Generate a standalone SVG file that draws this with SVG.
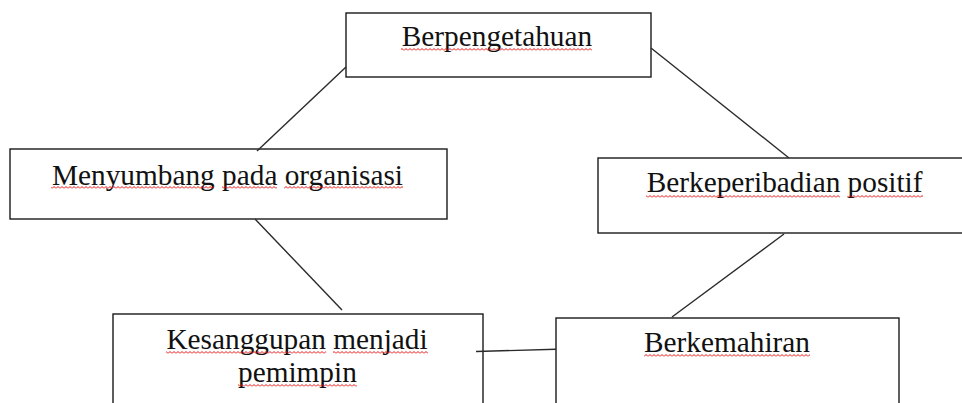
<svg xmlns="http://www.w3.org/2000/svg" width="962" height="403" viewBox="0 0 962 403">
<style>
.box{fill:#fff;stroke:#1a1a1a;stroke-width:1.4}
.lbl{font-family:"Liberation Serif","Times New Roman",serif;font-size:29.3px;fill:#111;text-anchor:middle}
.con{stroke:#2a2a2a;stroke-width:1.4;fill:none}
.sp{fill:url(#wave)}
</style>
<defs>
<pattern id="wave" width="4" height="3" patternUnits="userSpaceOnUse">
<path d="M0 2.5 L2 0.5 L4 2.5" stroke="#e81010" stroke-width="1" fill="none"/>
</pattern>
</defs>
<rect width="962" height="403" fill="#fff"/>
<g id="n1">
<rect class="box" x="346" y="13" width="305" height="64"/>
<text class="lbl" x="497" y="46">Berpengetahuan</text>
<rect class="sp" x="401" y="48" width="191" height="3"/>
</g>
<g id="n2">
<rect class="box" x="10" y="149" width="437" height="70"/>
<text class="lbl" x="227.5" y="185">Menyumbang pada organisasi</text>
<rect class="sp" x="51" y="186" width="163" height="3"/>
<rect class="sp" x="222" y="186" width="55" height="3"/>
<rect class="sp" x="284" y="186" width="119" height="3"/>
</g>
<g id="n3">
<rect class="box" x="598" y="158" width="370" height="75"/>
<text class="lbl" x="784.6" y="191.5">Berkeperibadian positif</text>
<rect class="sp" x="646" y="195" width="194" height="3"/>
<rect class="sp" x="847" y="195" width="76" height="3"/>
</g>
<g id="n4">
<rect class="box" x="113" y="314" width="370" height="100"/>
<text class="lbl" x="297" y="349">Kesanggupan menjadi</text>
<text class="lbl" x="297.4" y="381.5">pemimpin</text>
<rect class="sp" x="166" y="351" width="160" height="3"/>
<rect class="sp" x="333" y="351" width="95" height="3"/>
<rect class="sp" x="238" y="384" width="119" height="3"/>
</g>
<g id="n5">
<rect class="box" x="556" y="318" width="343" height="100"/>
<text class="lbl" x="727" y="351.5">Berkemahiran</text>
<rect class="sp" x="644" y="354" width="166" height="3"/>
</g>
<g id="connectors">
<line class="con" x1="346" y1="67" x2="257" y2="151"/>
<line class="con" x1="651" y1="48" x2="789" y2="158"/>
<line class="con" x1="255" y1="219" x2="342" y2="310"/>
<line class="con" x1="784" y1="234" x2="672" y2="317"/>
<line class="con" x1="476" y1="351.5" x2="556" y2="349.3"/>
</g>
</svg>
